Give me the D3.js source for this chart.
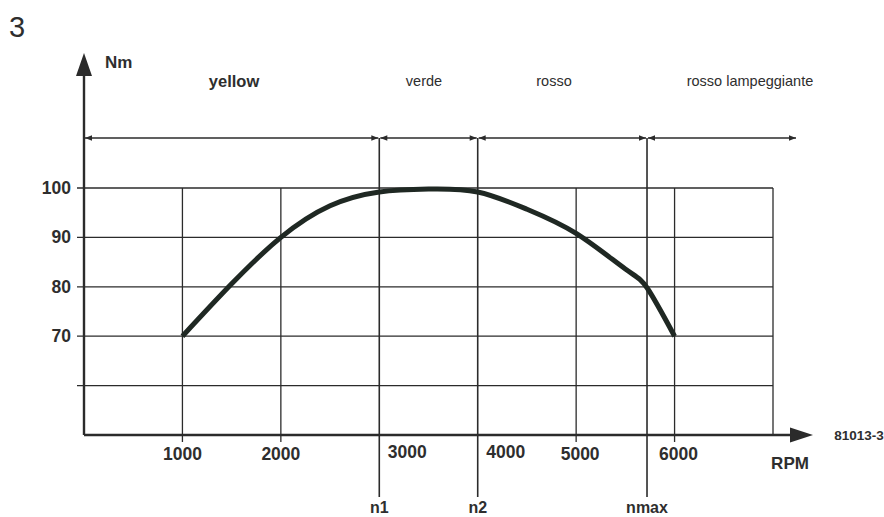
<!DOCTYPE html>
<html>
<head>
<meta charset="utf-8">
<script src="https://cdn.jsdelivr.net/npm/d3@7"></script>
<style>
  html, body { margin: 0; padding: 0; background: #fff; }
  svg { display: block; }
  text { font-family: "Liberation Sans", Arial, Helvetica, sans-serif; fill: #2e2e2e; }
</style>
</head>
<body>
<svg id="chart" width="884" height="517"></svg>
<script>
// Torque curve of the engine (Nm against RPM)
const rpm    = [1000, 1500, 2000, 2500, 3000, 3500, 4000, 4500, 5000, 5500, 5720, 6000];
const torque = [70,   80.6, 90,   96.4, 99.2, 99.8, 99.2, 95.7, 90.8, 83.6, 79.8, 70];

// Grid / tick values
const xTicks = [1000, 2000, 3000, 4000, 5000, 6000];
const xGrid  = [1000, 2000, 3000, 4000, 5000, 6000, 7000];
const yTicks = [70, 80, 90, 100];
const yGrid  = [60, 70, 80, 90, 100];

// Speed thresholds that split the lamp zones
const markerNames = ["n1", "n2", "nmax"];
const markerRpm   = [3000, 4000, 5720];

// Lamp zones shown above the graph
const zoneNames = ["yellow", "verde", "rosso", "rosso lampeggiante"];
const zoneBold  = [true, false, false, false];

const svg = d3.select("#chart");
const ink = "#2b2b2b";

const x = d3.scaleLinear().domain([0, 7000]).range([84, 773]);
const y = d3.scaleLinear().domain([50, 100]).range([435, 188]);

const xMax = 7000, yMin = 50, yTop = 100;

// arrowhead marker for the zone arrows
const defs = svg.append("defs");
defs.append("marker").attr("id", "small").attr("viewBox", "0 0 10 10")
  .attr("refX", 10).attr("refY", 5).attr("markerWidth", 9).attr("markerHeight", 7)
  .attr("markerUnits", "userSpaceOnUse").attr("orient", "auto-start-reverse")
  .append("path").attr("d", "M0,1 L10,5 L0,9 Z").attr("fill", ink);

// horizontal grid lines (with small outward ticks)
svg.append("g").selectAll("line").data(yGrid).join("line")
  .attr("x1", x(0) - 7).attr("x2", x(xMax))
  .attr("y1", d => y(d)).attr("y2", d => y(d))
  .attr("stroke", ink).attr("stroke-width", 1.3);

// vertical grid lines
svg.append("g").selectAll("line").data(xGrid.filter(v => !markerRpm.includes(v))).join("line")
  .attr("x1", d => x(d)).attr("x2", d => x(d))
  .attr("y1", y(yTop)).attr("y2", d => d === xMax ? y(yMin) : y(yMin) + 7)
  .attr("stroke", ink).attr("stroke-width", 1.3);

// threshold lines n1, n2, nmax (from the zone arrows to below the axis)
const zoneY = 138;
svg.append("g").selectAll("line").data(markerRpm).join("line")
  .attr("x1", d => x(d)).attr("x2", d => x(d))
  .attr("y1", zoneY).attr("y2", 497)
  .attr("stroke", ink).attr("stroke-width", 1.6);

svg.append("g").selectAll("text").data(markerNames).join("text")
  .attr("x", (d, i) => x(markerRpm[i]))
  .attr("y", 512.5)
  .attr("text-anchor", "middle")
  .attr("font-size", 16).attr("font-weight", "bold")
  .text(d => d);

// zone arrows along the top
const bounds = [0, ...markerRpm];
const zoneEnds = bounds.map((b, i) => [x(b), i < markerRpm.length ? x(bounds[i + 1]) : 797]);
svg.append("g").selectAll("line").data(zoneEnds).join("line")
  .attr("x1", d => d[0] + 1).attr("x2", d => d[1] - 1)
  .attr("y1", zoneY).attr("y2", zoneY)
  .attr("stroke", ink).attr("stroke-width", 1.6)
  .attr("marker-start", "url(#small)")
  .attr("marker-end", "url(#small)");

// zone labels
const zoneCx = [234, 424, 554, 750];
svg.append("g").selectAll("text").data(zoneNames).join("text")
  .attr("x", (d, i) => zoneCx[i])
  .attr("y", (d, i) => zoneBold[i] ? 87 : 86)
  .attr("text-anchor", "middle")
  .attr("font-size", (d, i) => zoneBold[i] ? 16.5 : 14.5)
  .attr("font-weight", (d, i) => zoneBold[i] ? "bold" : "normal")
  .attr("fill", (d, i) => zoneBold[i] ? "#2e2e2e" : "#4a4a4a")
  .text(d => d);

// axes
svg.append("line").attr("x1", x(0)).attr("x2", 795)
  .attr("y1", y(yMin)).attr("y2", y(yMin))
  .attr("stroke", ink).attr("stroke-width", 2.4);
svg.append("path")
  .attr("d", `M790,${y(yMin) - 7.5} L813,${y(yMin)} L790,${y(yMin) + 7.5} Z`)
  .attr("fill", ink);
svg.append("line").attr("x1", x(0)).attr("x2", x(0))
  .attr("y1", y(yMin)).attr("y2", 70)
  .attr("stroke", ink).attr("stroke-width", 2.4);
svg.append("path")
  .attr("d", `M${x(0) - 8},76 L${x(0)},53 L${x(0) + 8},76 Z`)
  .attr("fill", ink);

// tick labels
svg.append("g").selectAll("text").data(yTicks).join("text")
  .attr("x", 71).attr("y", d => y(d) + 6)
  .attr("text-anchor", "end")
  .attr("font-size", 17.5).attr("font-weight", "bold")
  .text(d => d);

// labels sitting on a threshold line are nudged to its right
svg.append("g").selectAll("text").data(xTicks).join("text")
  .attr("x", d => x(d) + (markerRpm.includes(d) ? 28 : (d >= 5000 ? 4 : 0)))
  .attr("y", d => markerRpm.includes(d) ? 458 : 460)
  .attr("text-anchor", "middle")
  .attr("font-size", 17.5).attr("font-weight", "bold")
  .text(d => d);

// axis titles and figure number
svg.append("text").attr("x", 105).attr("y", 68)
  .attr("font-size", 17).attr("font-weight", "bold").text("Nm");
svg.append("text").attr("x", 790).attr("y", 469)
  .attr("text-anchor", "middle")
  .attr("font-size", 17).attr("font-weight", "bold").text("RPM");
svg.append("text").attr("x", 859).attr("y", 440)
  .attr("text-anchor", "middle")
  .attr("font-size", 13.5).attr("font-weight", "bold").text("81013-3");
svg.append("text").attr("x", 9).attr("y", 37)
  .attr("font-size", 29).text("3");

// torque curve
const line = d3.line()
  .x((d, i) => x(rpm[i]))
  .y(d => y(d))
  .curve(d3.curveNatural);
svg.append("path").datum(torque)
  .attr("d", line)
  .attr("fill", "none")
  .attr("stroke", "#1f2823")
  .attr("stroke-width", 5)
  .attr("stroke-linecap", "butt")
  .attr("stroke-linejoin", "round");
</script>
</body>
</html>
